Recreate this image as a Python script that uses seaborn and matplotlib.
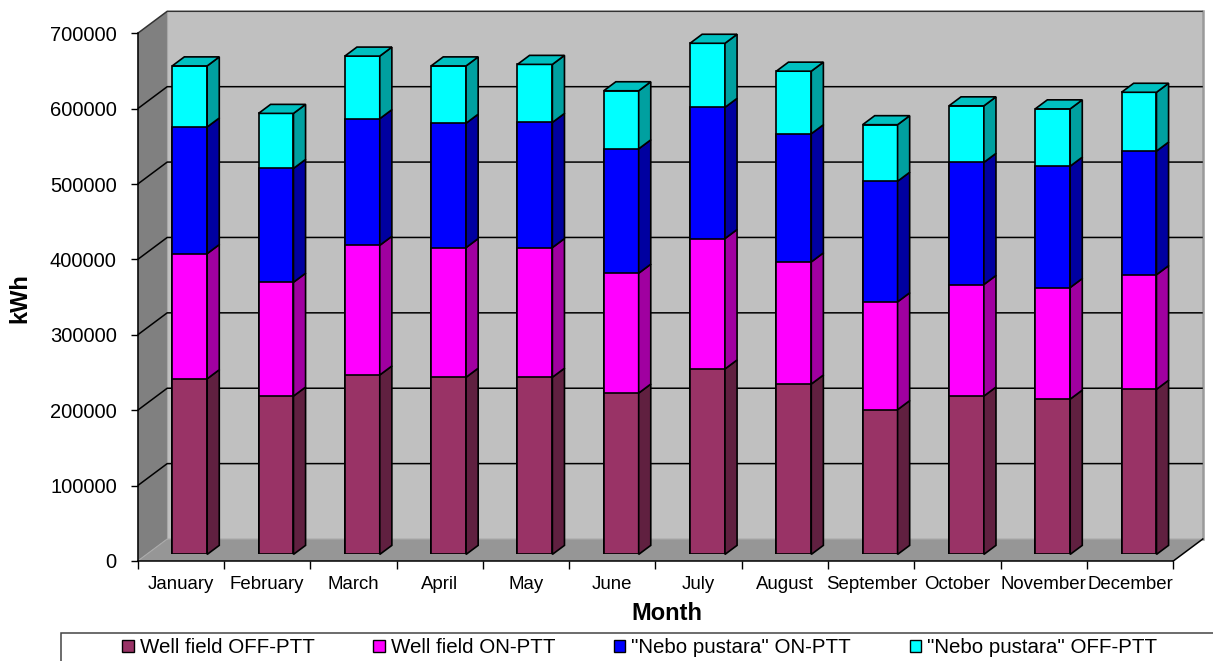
import numpy as np
import pandas as pd
import matplotlib
matplotlib.use("Agg")
import matplotlib.pyplot as plt
import seaborn as sns
from matplotlib.patches import Polygon, Rectangle, Patch

# ---- data (kWh per month) ----
months = ["January", "February", "March", "April", "May", "June",
          "July", "August", "September", "October", "November", "December"]
well_off = [233000, 210000, 238000, 235000, 235000, 214000,
            246000, 226000, 192000, 210000, 206000, 219000]
well_on = [166000, 151000, 172000, 172000, 172000, 159000,
           173000, 162000, 143000, 148000, 148000, 152000]
nebo_on = [168000, 151000, 168000, 165000, 166000, 165000,
           174000, 170000, 160000, 162000, 161000, 164000]
nebo_off = [81000, 73000, 83000, 76000, 77000, 77000,
            85000, 83000, 75000, 75000, 76000, 78000]
series_names = ["Well field OFF-PTT", "Well field ON-PTT",
                '"Nebo pustara" ON-PTT', '"Nebo pustara" OFF-PTT']
y_ticks = [0, 100000, 200000, 300000, 400000, 500000, 600000, 700000]

# ---- styling ----
front_colors = ["#993366", "#ff00ff", "#0000ff", "#00ffff"]
side_colors = ["#602040", "#a000a0", "#0000a0", "#00a0a0"]
top_color = "#00c0c0"

plt.rcParams["font.family"] = ["Liberation Sans", "DejaVu Sans"]

W, H, DPI = 1213, 661, 100
fig = plt.figure(figsize=(W / DPI, H / DPI), dpi=DPI)
fig.patch.set_facecolor("white")

# front plane of the plot box, pixel coordinates from the top-left corner
X0_PX, X1_PX = 137.7, 1173.3
Y0_PX, Y1_PX = 561.0, 33.3
WALL_DEPTH = (29.5, 22.0)      # pixel offset from the front plane to the back wall
BAR_FRONT, BAR_BACK = 0.30, 0.71


def frame_rect(dx=0.0, dy=0.0):
    return [(X0_PX + dx) / W, (H - Y0_PX + dy) / H,
            (X1_PX - X0_PX) / W, (Y0_PX - Y1_PX) / H]


ax = fig.add_axes(frame_rect(), zorder=0)
ax_bar = fig.add_axes(frame_rect(WALL_DEPTH[0] * BAR_FRONT,
                                 WALL_DEPTH[1] * BAR_FRONT), zorder=1)

n = len(months)
ymax = y_ticks[-1]
xl, xr = -0.5, n - 0.5
px_per_x = (X1_PX - X0_PX) / (xr - xl)
px_per_y = (Y0_PX - Y1_PX) / ymax
wdx = WALL_DEPTH[0] / px_per_x
wdy = WALL_DEPTH[1] / px_per_y
bdx = wdx * (BAR_BACK - BAR_FRONT)
bdy = wdy * (BAR_BACK - BAR_FRONT)

# ---- walls and floor ----
ax.set_facecolor("none")
ax.set_xlim(xl, xr)
ax.set_ylim(0, ymax)
ax.add_patch(Rectangle((xl + wdx, wdy), xr - xl, ymax, fc="#c0c0c0", ec="none",
                       clip_on=False, zorder=0.5))
ax.add_patch(Polygon([(xl, 0), (xl, ymax), (xl + wdx, ymax + wdy), (xl + wdx, wdy)],
                     closed=True, fc="#808080", ec="none", clip_on=False, zorder=0.6))
ax.add_patch(Polygon([(xl, 0), (xr, 0), (xr + wdx, wdy), (xl + wdx, wdy)],
                     closed=True, fc="#969696", ec="none", clip_on=False, zorder=0.6))

for v in y_ticks[1:]:
    col = "#333333" if v == ymax else "black"
    ax.plot([xl, xl + wdx, xr + wdx], [v, v + wdy, v + wdy], color=col,
            lw=1.1, clip_on=False, zorder=1, solid_capstyle="butt")
ax.plot([xl, xl + wdx, xr + wdx], [0, wdy, wdy], color="#aaaaaa", lw=0.8,
        clip_on=False, zorder=0.9)
ax.plot([xl + wdx, xl + wdx], [wdy, ymax + wdy], color="#a8a8a8", lw=0.8,
        clip_on=False, zorder=0.9)
ax.plot([xr + wdx, xr + wdx], [wdy, ymax + wdy], color="#9a9a9a", lw=1.8,
        clip_on=False, zorder=0.9)
ax.plot([xr, xr + wdx], [0, wdy], color="black", lw=1.1, clip_on=False, zorder=1)

for s in ("top", "right"):
    ax.spines[s].set_visible(False)
for s in ("left", "bottom"):
    ax.spines[s].set_color("black")
    ax.spines[s].set_linewidth(1.1)
    ax.spines[s].set_zorder(2)

ax.set_yticks(y_ticks)
ax.set_yticklabels([str(v) for v in y_ticks])
ax.tick_params(axis="y", direction="out", length=5, width=1.0, pad=10,
               labelsize=14.5, colors="black")
ax.set_xticks(range(n))
ax.set_xticklabels(months)
ax.set_xticks(np.arange(xl, xr + 0.01, 1.0), minor=True)
ax.tick_params(axis="x", which="major", length=0, pad=11, labelsize=13.4)
ax.tick_params(axis="x", which="minor", direction="out", length=6, width=1.0)

# ---- stacked bars (front faces) ----
df = pd.DataFrame({"month": months, "s1": well_off, "s2": well_on,
                   "s3": nebo_on, "s4": nebo_off})
cum = np.cumsum(np.array([well_off, well_on, nebo_on, nebo_off], dtype=float), axis=0)
bounds = np.vstack([np.zeros(n), cum])

for k in range(3, -1, -1):
    df["total"] = cum[k]
    sns.barplot(data=df, x="month", y="total", color=front_colors[k], saturation=1,
                width=0.405, edgecolor="black", linewidth=1.2, errorbar=None,
                ax=ax_bar)

ax_bar.set_xlim(xl, xr)
ax_bar.set_ylim(0, ymax)
ax_bar.axis("off")

# ---- side faces and top caps give the bars depth ----
base_bars = ax_bar.containers[-1]
for i, p in enumerate(base_bars.patches):
    x0 = p.get_x()
    x1 = x0 + p.get_width()
    for k in range(4):
        lo, hi = bounds[k][i], bounds[k + 1][i]
        ax_bar.add_patch(Polygon([(x1, lo), (x1, hi), (x1 + bdx, hi + bdy), (x1 + bdx, lo + bdy)],
                                 closed=True, fc=side_colors[k], ec="black", lw=1.2,
                                 clip_on=False, zorder=3))
    top = bounds[-1][i]
    ax_bar.add_patch(Polygon([(x0, top), (x1, top), (x1 + bdx, top + bdy), (x0 + bdx, top + bdy)],
                             closed=True, fc=top_color, ec="black", lw=1.2,
                             clip_on=False, zorder=3))

# ---- axis titles ----
fig.text(20 / W, 1 - 298 / H, "kWh", rotation=90, fontsize=17, fontweight="bold",
         ha="center", va="center")
fig.text(667 / W, 1 - 613 / H, "Month", fontsize=17, fontweight="bold",
         ha="center", va="center")

# ---- legend ----
fig.add_artist(Rectangle((61 / W, -0.1), 1.2, (H - 632.7) / H + 0.1,
                         transform=fig.transFigure, fill=False,
                         ec="#444444", lw=1.1))
handles = [Patch(facecolor=c, edgecolor="black", linewidth=1.0) for c in front_colors]
fig.legend(handles, series_names, ncol=4, loc="center left",
           bbox_to_anchor=(122.3 / W, 1 - 647.5 / H), frameon=False,
           fontsize=14.8, handlelength=0.55, handleheight=0.55,
           handletextpad=0.3, columnspacing=2.85, borderpad=0, borderaxespad=0)

fig.savefig("out.png", dpi=DPI)
